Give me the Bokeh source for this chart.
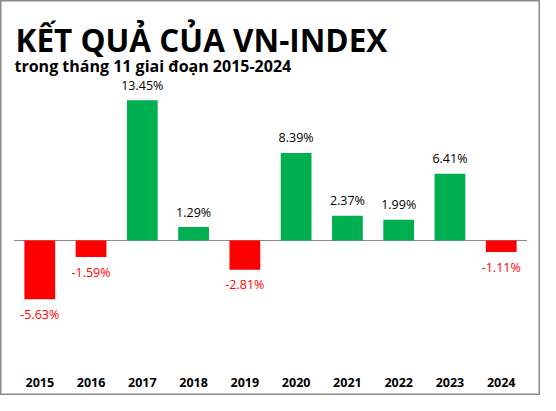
from bokeh.plotting import figure
from bokeh.models import ColumnDataSource, FactorRange, Range1d, Label
from bokeh.core.properties import value
from bokeh.embed import file_html
from bokeh.resources import INLINE

# data
years = ["2015", "2016", "2017", "2018", "2019", "2020", "2021", "2022", "2023", "2024"]
returns = [-5.63, -1.59, 13.45, 1.29, -2.81, 8.39, 2.37, 1.99, 6.41, -1.11]
title_text = "KẾT QUẢ CỦA VN-INDEX"
subtitle_text = "trong tháng 11 giai đoạn 2015-2024"

GREEN = "#00b050"
RED = "#ff0000"
FONT = "Open Sans"

src = ColumnDataSource(dict(
    year=years,
    ret=returns,
    color=[GREEN if v >= 0 else RED for v in returns],
    label=["%.2f%%" % v for v in returns],
    label_color=["#000000" if v >= 0 else RED for v in returns],
    label_off=[-15 if v >= 0 else 15 for v in returns],
    year_y=[-13.6] * len(years),
))

p = figure(width=540, height=395, output_backend="svg", toolbar_location=None,
           x_range=FactorRange(*years, range_padding=0.266, range_padding_units="absolute"),
           y_range=Range1d(-14.86, 23.01),
           min_border=0, x_axis_location=None, y_axis_location=None)
p.grid.visible = False
p.outline_line_color = "#8a8a8a"
p.outline_line_width = 2

# zero line across the category band
p.segment(x0=[0], x1=[len(years)], y0=[0], y1=[0], line_color="#8c8c8c", line_width=1.2)

p.vbar(x="year", top="ret", width=0.6, fill_color="color", line_color=None, source=src)

p.text(x="year", y="ret", text="label", y_offset="label_off", text_color="label_color",
       text_align="center", text_baseline="middle", text_font=value(FONT),
       text_font_size="12.5px", source=src)

p.text(x="year", y="year_y", text="year", text_align="center", text_baseline="middle",
       text_font=value(FONT), text_font_size="12.5px", text_font_style="bold",
       text_color="#000000", source=src)

p.add_layout(Label(x=15, y=356, x_units="screen", y_units="screen", text=title_text,
                   text_font=FONT, text_font_size="31.5px", text_font_style="bold",
                   text_color="#000000", text_baseline="alphabetic"))
p.add_layout(Label(x=14, y=330, x_units="screen", y_units="screen", text=subtitle_text,
                   text_font=FONT, text_font_size="16px", text_font_style="bold",
                   text_color="#000000", text_baseline="alphabetic"))

open("out.html", "w").write(file_html(p, INLINE))
